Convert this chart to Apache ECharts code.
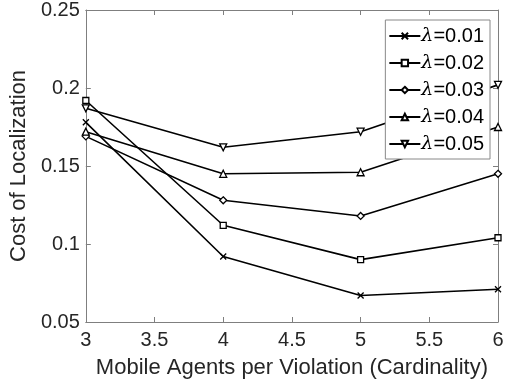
<!DOCTYPE html>
<html><head><meta charset="utf-8">
<script src="https://cdn.jsdelivr.net/npm/echarts@6/dist/echarts.min.js"></script>
<style>html,body{margin:0;padding:0;background:#fff}#c{width:510px;height:385px}</style>
</head><body><div id="c"></div>
<script>
const xValues = [3, 4, 5, 6];
const seriesNames = ['λ=0.01', 'λ=0.02', 'λ=0.03', 'λ=0.04', 'λ=0.05'];
const s001 = [0.178, 0.092, 0.067, 0.071];
const s002 = [0.192, 0.112, 0.090, 0.104];
const s003 = [0.169, 0.128, 0.118, 0.145];
const s004 = [0.172, 0.145, 0.146, 0.175];
const s005 = [0.187, 0.162, 0.172, 0.202];
const xTicks = [3, 3.5, 4, 4.5, 5, 5.5, 6];
const yTicks = [0.05, 0.1, 0.15, 0.2, 0.25];

const allData = [s001, s002, s003, s004, s005];
const symbols = [
  'path://M0,0L10,10M10,0L0,10',
  'rect',
  'path://M5,0L10,5L5,10L0,5Z',
  'path://M5,0L10,9L0,9Z',
  'path://M0,0L10,0L5,9Z'
];
const sizes = [6, 6, 7, 7, 7];
const font = 'Liberation Sans, Arial, Helvetica, sans-serif';
const axisCol = '#7f7f7f';
const textCol = '#262626';

const chart = echarts.init(document.getElementById('c'), null, {renderer: 'canvas'});
const series = allData.map((d, i) => ({
  name: seriesNames[i],
  type: 'line',
  xAxisIndex: 0, yAxisIndex: 0,
  data: d.map((v, j) => [xValues[j], v]),
  symbol: symbols[i],
  symbolSize: sizes[i],
  showAllSymbol: true,
  lineStyle: {color: '#000', width: 1.6},
  itemStyle: {color: '#fff', borderColor: '#000', borderWidth: 1.3},
  emphasis: {disabled: true},
  animation: false
}));

const commonAxis = {
  axisLine: {show: true, onZero: false, lineStyle: {color: axisCol, width: 1}},
  axisTick: {show: true, inside: true, length: 5, lineStyle: {color: axisCol}},
  splitLine: {show: false}
};

chart.setOption({
  backgroundColor: '#fff',
  animation: false,
  grid: {left: 84, right: 12, top: 9, bottom: 63},
  legend: {
    orient: 'vertical',
    right: 20, top: 20,
    data: seriesNames,
    backgroundColor: '#fff',
    borderColor: '#888',
    borderWidth: 1,
    borderRadius: 0,
    padding: [6, 6, 5, 3],
    itemGap: 7,
    itemWidth: 31,
    itemHeight: 8,
    formatter: name => '{l|λ}{t|' + name.slice(1) + '}',
    textStyle: {
      fontFamily: font, fontSize: 20, color: '#000', padding: [0, 0, 0, -4],
      rich: {
        l: {fontFamily: 'DejaVu Serif, Liberation Serif, serif', fontStyle: 'italic', fontSize: 19, color: '#000'},
        t: {fontFamily: font, fontSize: 20, color: '#000'}
      }
    }
  },
  xAxis: [
    Object.assign({
      type: 'value', min: 3, max: 6, interval: 0.5, position: 'bottom',
      name: 'Mobile Agents per Violation (Cardinality)',
      nameLocation: 'middle', nameGap: 35,
      nameTextStyle: {fontFamily: font, fontSize: 22, color: textCol},
      axisLabel: {fontFamily: font, fontSize: 20, color: textCol, margin: 8,
        formatter: v => String(v)}
    }, commonAxis),
    Object.assign({
      type: 'value', min: 3, max: 6, interval: 0.5, position: 'top',
      axisLabel: {show: false}
    }, commonAxis)
  ],
  yAxis: [
    Object.assign({
      type: 'value', min: 0.05, max: 0.25, interval: 0.05, position: 'left',
      name: 'Cost of Localization',
      nameLocation: 'middle', nameGap: 49,
      nameTextStyle: {fontFamily: font, fontSize: 22, color: textCol},
      axisLabel: {fontFamily: font, fontSize: 20, color: textCol, margin: 6,
        formatter: v => String(parseFloat(v.toFixed(2)))}
    }, commonAxis),
    Object.assign({
      type: 'value', min: 0.05, max: 0.25, interval: 0.05, position: 'right',
      axisLabel: {show: false}
    }, commonAxis)
  ],
  series: series
});
</script></body></html>
